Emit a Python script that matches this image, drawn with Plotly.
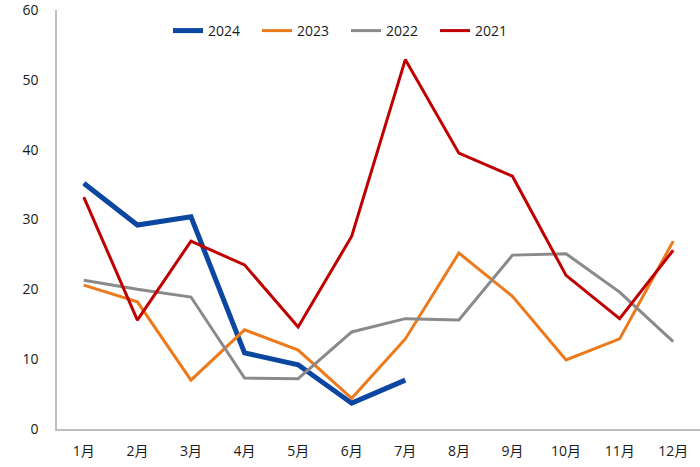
import plotly.graph_objects as go

months = ["1月", "2月", "3月", "4月", "5月", "6月", "7月", "8月", "9月", "10月", "11月", "12月"]
y2024 = [35.2, 29.2, 30.4, 10.9, 9.2, 3.7, 7.0]
y2023 = [20.6, 18.2, 7.0, 14.2, 11.3, 4.4, 12.9, 25.2, 19.0, 9.9, 12.9, 26.9]
y2022 = [21.3, 20.0, 18.9, 7.3, 7.2, 13.9, 15.8, 15.6, 24.9, 25.1, 19.6, 12.5]
y2021 = [33.2, 15.6, 26.9, 23.5, 14.6, 27.6, 52.9, 39.5, 36.2, 22.0, 15.8, 25.6]
yticks = [0, 10, 20, 30, 40, 50, 60]

fig = go.Figure()
fig.add_trace(go.Scatter(x=months[:len(y2024)], y=y2024, name="2024", mode="lines",
                         line=dict(color="#0B47A1", width=5)))
fig.add_trace(go.Scatter(x=months, y=y2023, name="2023", mode="lines",
                         line=dict(color="#EC7A1C", width=3)))
fig.add_trace(go.Scatter(x=months, y=y2022, name="2022", mode="lines",
                         line=dict(color="#8A8A8A", width=3)))
fig.add_trace(go.Scatter(x=months, y=y2021, name="2021", mode="lines",
                         line=dict(color="#C00000", width=3)))

font_family = "Open Sans, Noto Sans CJK SC, sans-serif"
L, T, B = 57, 10, 38
W, H = 700, 467
pw, ph = W - L, H - T - B
fig.update_layout(
    width=W, height=H,
    margin=dict(l=L, r=0, t=T, b=B, autoexpand=False),
    plot_bgcolor="white", paper_bgcolor="white",
    font=dict(family=font_family, size=14, color="#1a1a1a"),
    showlegend=True,
    legend=dict(orientation="h", x=(168 - L) / pw, xanchor="left",
                y=(H - B - 31) / ph, yanchor="middle",
                font=dict(size=14), entrywidth=44, entrywidthmode="pixels",
                bgcolor="rgba(0,0,0,0)"),
    xaxis=dict(type="category", categoryorder="array", categoryarray=months,
               range=[-0.5, 11.5], showgrid=False, showline=True, linecolor="#BFBFBF",
               linewidth=1.5, ticks="", ticklabelstandoff=8, zeroline=False,
               automargin=False, ticklabeloverflow="allow"),
    yaxis=dict(range=[0, 60], tickvals=yticks, showgrid=False, showline=True,
               linecolor="#BFBFBF", linewidth=1.5, ticks="", zeroline=False,
               ticklabelstandoff=14, automargin=False, ticklabeloverflow="allow"),
)
fig.write_html("out.html", config={"displayModeBar": False},
               post_script="document.body.style.margin='0';document.body.style.overflow='hidden';")
